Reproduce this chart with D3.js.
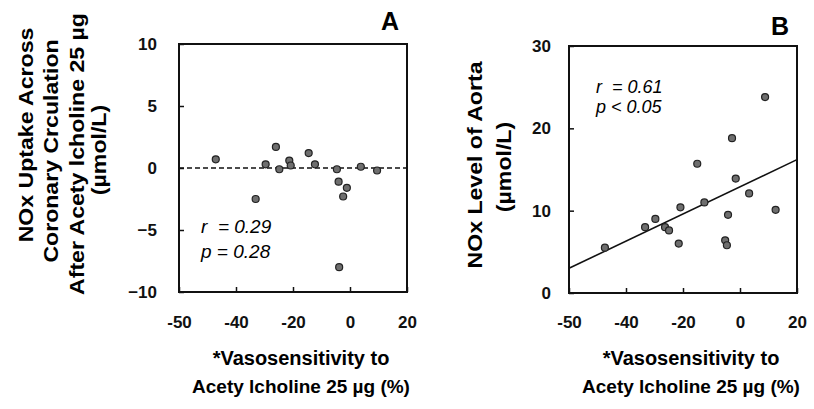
<!DOCTYPE html>
<html lang="en">
<head>
    <meta charset="UTF-8">
    <title>NOx vs vasosensitivity</title>
    <script type="text/javascript" src="https://cdn.jsdelivr.net/npm/d3@7/dist/d3.min.js"></script>
    <style type="text/css">
        body { margin: 0; background: #fff; }
        text { font-family: "Liberation Sans", Arial, sans-serif; }
    </style>
</head>
<body>
    <script type="text/javascript">
        //Width and height
        var w = 814;
        var h = 409;

        //x ticks (the left edge is printed as -50 in the original)
        var xTicks = [-60, -40, -20, 0, 20];
        var xTickLabels = ["-50", "-40", "-20", "0", "20"];

        //Panel A: NOx uptake across coronary circulation
        var aX = [-47.1, -33.1, -29.6, -26.0, -24.8, -21.3, -20.8, -14.5, -12.3,
            -4.6, -4.0, -1.1, -2.4, 3.8, 9.5, -3.8];
        var aY = [0.7, -2.5, 0.3, 1.7, -0.1, 0.6, 0.2, 1.2, 0.3,
            -0.1, -1.1, -1.6, -2.3, 0.1, -0.2, -8.0];
        var aYTicks = [10, 5, 0, -5, -10];

        //Panel B: NOx level of aorta
        var bX = [-47.4, -33.3, -29.7, -26.3, -24.9, -21.5, -20.9, -15.0, -12.5,
            -4.2, -5.2, -4.6, -2.8, -1.5, 3.2, 8.8, 12.5];
        var bY = [5.5, 8.0, 9.0, 8.0, 7.6, 6.0, 10.4, 15.7, 11.0,
            9.5, 6.4, 5.8, 18.8, 13.9, 12.1, 23.8, 10.1];
        var bYTicks = [0, 10, 20, 30];

        //regression line of panel B
        var fitX = [-60, 20];
        var fitY = [3.0, 16.2];

        var svg = d3.select("body")
            .append("svg")
            .attr("width", w)
            .attr("height", h);

        function drawPanel(opt) {
            var xScale = d3.scaleLinear()
                .domain([-60, 20])
                .range([opt.left, opt.right]);

            var yScale = d3.scaleLinear()
                .domain(opt.yDomain)
                .range([opt.bottom, opt.top]);

            var g = svg.append("g");

            //x axis, ticks pointing inward
            var xAxis = d3.axisBottom(xScale)
                .tickValues(xTicks)
                .tickFormat(function(d, i) { return xTickLabels[i]; })
                .tickSizeInner(-5)
                .tickSizeOuter(0)
                .tickPadding(opt.xPad);

            g.append("g")
                .attr("transform", "translate(0," + opt.bottom + ")")
                .call(xAxis);

            //y axis
            var yAxis = d3.axisLeft(yScale)
                .tickValues(opt.yTicks)
                .tickSizeInner(-5)
                .tickSizeOuter(0)
                .tickPadding(opt.yPad);

            g.append("g")
                .attr("transform", "translate(" + opt.left + ",0)")
                .call(yAxis);

            g.selectAll(".domain").remove();
            g.selectAll(".tick line")
                .attr("stroke", "#111")
                .attr("stroke-width", 1.5);
            g.selectAll(".tick text")
                .attr("font-size", "17px")
                .attr("font-weight", "bold")
                .attr("fill", "#111");

            //frame
            g.append("rect")
                .attr("x", opt.left)
                .attr("y", opt.top)
                .attr("width", opt.right - opt.left)
                .attr("height", opt.bottom - opt.top)
                .attr("fill", "none")
                .attr("stroke", "#111")
                .attr("stroke-width", 2);

            //reference / fit line
            if (opt.zeroLine) {
                g.append("line")
                    .attr("x1", opt.left)
                    .attr("x2", opt.right)
                    .attr("y1", yScale(0))
                    .attr("y2", yScale(0))
                    .attr("stroke", "#111")
                    .attr("stroke-width", 1.6)
                    .attr("stroke-dasharray", "5,3");
            }
            if (opt.fit) {
                g.append("line")
                    .attr("x1", xScale(fitX[0]))
                    .attr("x2", xScale(fitX[1]))
                    .attr("y1", yScale(fitY[0]))
                    .attr("y2", yScale(fitY[1]))
                    .attr("stroke", "#111")
                    .attr("stroke-width", 1.6);
            }

            //points
            g.selectAll("circle")
                .data(opt.xs)
                .enter()
                .append("circle")
                .attr("cx", function(d) { return xScale(d); })
                .attr("cy", function(d, i) { return yScale(opt.ys[i]); })
                .attr("r", 3.5)
                .attr("fill", "#6e6e6e")
                .attr("stroke", "#222")
                .attr("stroke-width", 1.2);

            //stats text
            g.selectAll(".stat")
                .data(opt.stats)
                .enter()
                .append("text")
                .attr("class", "stat")
                .attr("x", opt.statX)
                .attr("y", function(d, i) { return opt.statY[i]; })
                .attr("font-size", opt.statSize)
                .attr("font-style", "italic")
                .style("white-space", "pre")
                .text(function(d) { return d; });

            //panel letter
            g.append("text")
                .attr("x", opt.letterX)
                .attr("y", opt.letterY)
                .attr("text-anchor", "middle")
                .attr("font-size", "25px")
                .attr("font-weight", "bold")
                .text(opt.letter);

            //x title
            g.selectAll(".xt")
                .data(["*Vasosensitivity to", "Acety lcholine 25 \u00b5g (%)"])
                .enter()
                .append("text")
                .attr("class", "xt")
                .attr("x", opt.xTitleX)
                .attr("y", function(d, i) { return 365 + i * 28; })
                .attr("text-anchor", "middle")
                .attr("font-size", function(d, i) { return i ? "19px" : "20px"; })
                .attr("font-weight", "bold")
                .text(function(d) { return d; });

            //y title (rotated, the scan is a little stretched vertically)
            g.selectAll(".yt")
                .data(opt.yTitle)
                .enter()
                .append("text")
                .attr("class", "yt")
                .attr("transform", function(d, i) {
                    return "translate(" + opt.yTitleX[i] + "," + opt.yTitleY[i] +
                        ") rotate(-90) scale(1.1,1)";
                })
                .attr("text-anchor", "middle")
                .attr("font-size", "21px")
                .attr("font-weight", "bold")
                .text(function(d) { return d; });
        }

        drawPanel({
            left: 179, right: 407, top: 44, bottom: 292,
            yDomain: [-10, 10], yTicks: aYTicks,
            xPad: 24, yPad: 22,
            xs: aX, ys: aY,
            zeroLine: true, fit: false,
            stats: ["r  = 0.29", "p = 0.28"], statX: 201, statY: [233, 258], statSize: "19px",
            letter: "A", letterX: 390, letterY: 30,
            xTitleX: 301,
            yTitle: ["NOx Uptake Across", "Coronary Crculation",
                "After Acety lcholine 25 \u00b5g", "(\u00b5mol/L)"],
            yTitleX: [33, 58, 84, 106], yTitleY: [135, 151, 154, 150]
        });

        drawPanel({
            left: 569, right: 797, top: 46, bottom: 293,
            yDomain: [0, 30], yTicks: bYTicks,
            xPad: 23, yPad: 18,
            xs: bX, ys: bY,
            zeroLine: false, fit: true,
            stats: ["r  = 0.61", "p < 0.05"], statX: 596, statY: [93, 113], statSize: "18px",
            letter: "B", letterX: 780, letterY: 35,
            xTitleX: 691,
            yTitle: ["NOx Level of Aorta", "(\u00b5mol/L)"],
            yTitleX: [482, 511], yTitleY: [165, 167]
        });
    </script>
</body>
</html>
